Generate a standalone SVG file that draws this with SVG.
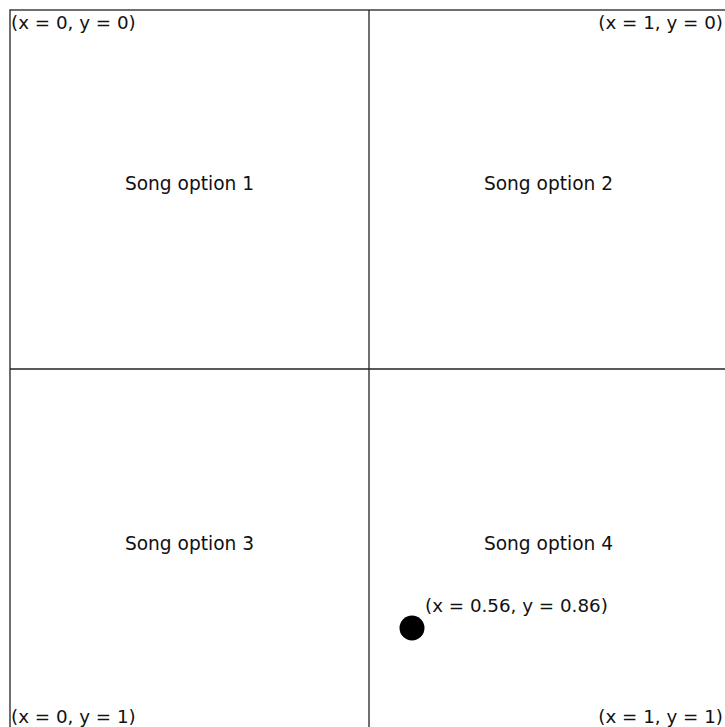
<svg xmlns="http://www.w3.org/2000/svg" width="725" height="727" viewBox="0 0 725 727">
<style>
text{font-family:"DejaVu Sans","Liberation Sans",sans-serif;fill:#111}
.song{font-size:18.6px;text-anchor:middle}
.coord{font-size:18.3px}
.line{stroke:#222;stroke-width:1.3;fill:none}
</style>
<rect x="0" y="0" width="725" height="727" fill="#ffffff"/>
<g id="panel">
<rect x="10" y="10" width="718" height="718" fill="#fdf9f8" class="line"/>
</g>
<g id="connectors">
<line class="line" x1="369" y1="10" x2="369" y2="727"/>
<line class="line" x1="10" y1="369" x2="725" y2="369"/>
</g>
<g id="q1"><text class="song" x="189.5" y="190">Song option 1</text></g>
<g id="q2"><text class="song" x="548.5" y="190">Song option 2</text></g>
<g id="q3"><text class="song" x="189.5" y="550">Song option 3</text></g>
<g id="q4"><text class="song" x="548.5" y="550">Song option 4</text></g>
<g id="corners">
<text class="coord" x="11" y="29">(x = 0, y = 0)</text>
<text class="coord" x="723" y="29" text-anchor="end">(x = 1, y = 0)</text>
<text class="coord" x="11" y="723">(x = 0, y = 1)</text>
<text class="coord" x="723" y="723" text-anchor="end">(x = 1, y = 1)</text>
</g>
<g id="point">
<circle cx="412" cy="628" r="12.5" fill="#000"/>
<text class="coord" x="425" y="612">(x = 0.56, y = 0.86)</text>
</g>
</svg>
